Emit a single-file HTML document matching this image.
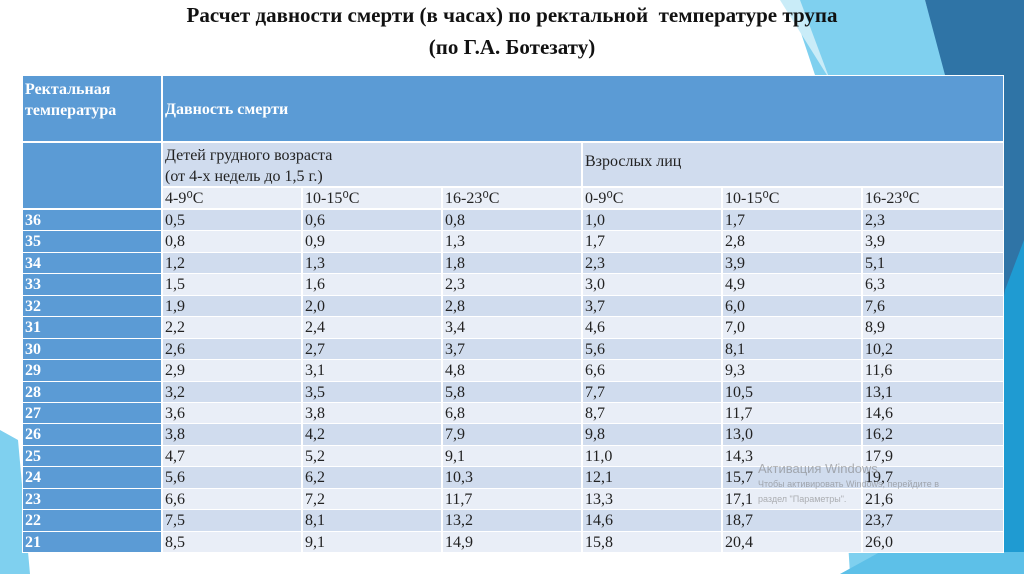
<!DOCTYPE html>
<html><head><meta charset="utf-8">
<style>
body{margin:0;width:1024px;height:574px;overflow:hidden;background:#fff;position:relative;font-family:"Liberation Serif",serif}
.c{position:absolute;box-sizing:border-box;font-size:16px;color:#222;padding-left:2px;line-height:21px;white-space:nowrap;overflow:hidden}
#title{position:absolute;left:0;top:-1px;width:1024px;text-align:center;font-weight:bold;font-size:21px;line-height:32px;color:#111;z-index:2}
</style></head><body>
<svg width="1024" height="574" style="position:absolute;left:0;top:0">
<polygon points="790,0 925,0 1010,300 1024,574 850,574 820,90" fill="#7fd0ef"/>
<polygon points="925,0 1024,0 1024,574 1000,574 1005,300" fill="#2f74a6"/>
<polygon points="1005,290 1024,240 1024,574 960,574" fill="#1f9bd2"/>
<polygon points="780,0 800,0 830,80" fill="#c9ecf8"/>
<polygon points="0,430 18,440 30,574 0,574" fill="#7fd0ef"/>
<polygon points="840,574 880,552 1024,552 1024,574" fill="#5dc0e8"/>
</svg>
<div id="title">Расчет давности смерти (в часах) по ректальной&nbsp; температуре трупа<br>(по Г.А. Ботезату)</div>
<div id="tbl"></div>
<script>
const temps=[36,35,34,33,32,31,30,29,28,27,26,25,24,23,22,21];
const inf1=["0,5","0,8","1,2","1,5","1,9","2,2","2,6","2,9","3,2","3,6","3,8","4,7","5,6","6,6","7,5","8,5"];
const inf2=["0,6","0,9","1,3","1,6","2,0","2,4","2,7","3,1","3,5","3,8","4,2","5,2","6,2","7,2","8,1","9,1"];
const inf3=["0,8","1,3","1,8","2,3","2,8","3,4","3,7","4,8","5,8","6,8","7,9","9,1","10,3","11,7","13,2","14,9"];
const ad1=["1,0","1,7","2,3","3,0","3,7","4,6","5,6","6,6","7,7","8,7","9,8","11,0","12,1","13,3","14,6","15,8"];
const ad2=["1,7","2,8","3,9","4,9","6,0","7,0","8,1","9,3","10,5","11,7","13,0","14,3","15,7","17,1","18,7","20,4"];
const ad3=["2,3","3,9","5,1","6,3","7,6","8,9","10,2","11,6","13,1","14,6","16,2","17,9","19,7","21,6","23,7","26,0"];
const units=["4-9⁰C","10-15⁰C","16-23⁰C","0-9⁰C","10-15⁰C","16-23⁰C"];
const cols=[22,162,302,442,582,722,862,1004];
const series=[inf1,inf2,inf3,ad1,ad2,ad3];
const T=document.getElementById('tbl');
function cell(x,y,w,h,bg,html,name,extra){
  const d=document.createElement('div');d.className='c';
  
  
  d.style.cssText+=`left:${x}px;top:${y}px;width:${w}px;height:${h}px;background:${bg};border:1px solid #fff;`+(extra||'');
  d.innerHTML=html;T.appendChild(d);return d;
}
cell(22,75,140,67,'#5b9bd5','Ректальная<br>температура','header-rectal-temp','color:#fff;font-weight:bold;padding-top:3px;line-height:21px');
cell(162,75,842,67,'#5b9bd5','Давность смерти','header-time-of-death','color:#fff;font-weight:bold;line-height:67px');
cell(22,142,140,67,'#5b9bd5','','header-blank');
cell(162,142,420,45,'#d0dcee','Детей грудного возраста<br>(от 4-х недель до 1,5 г.)','header-infants','line-height:21px;padding-top:2px');
cell(582,142,422,45,'#d0dcee','Взрослых лиц','header-adults','line-height:38px');
const rowTop=209,rowH=(552-209)/temps.length;
for(let j=0;j<6;j++) cell(cols[j+1],187,cols[j+2]-cols[j+1],22,'#e9eef7',units[j],'unit-header');
temps.forEach((t,i)=>{
  const y=rowTop+i*rowH, bg=i%2?'#e9eef7':'#d0dcee';
  cell(22,y,140,rowH+1,'#5b9bd5',t,'temp-label','color:#fff;font-weight:bold');
  series.forEach((s,j)=>cell(cols[j+1],y,cols[j+2]-cols[j+1],rowH+1,bg,s[i],'value-cell'));
});
</script>
<div style="position:absolute;left:758px;top:462px;font-family:'Liberation Sans',sans-serif;color:rgba(120,120,120,0.55);font-size:13px;line-height:14px">Активация Windows<br><span style="font-size:9px">Чтобы активировать Windows, перейдите в<br>раздел "Параметры".</span></div>
</body></html>
